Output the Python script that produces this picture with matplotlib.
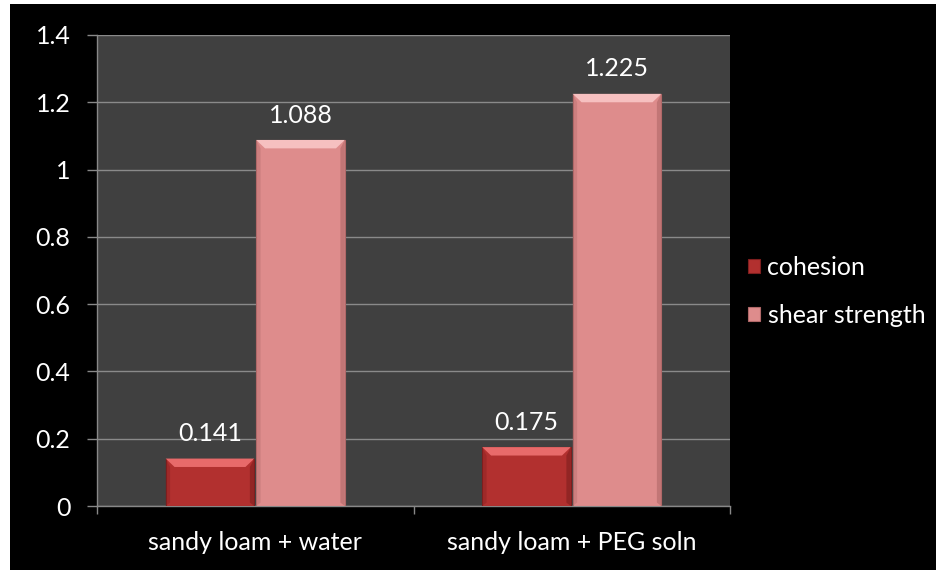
import matplotlib
matplotlib.use("Agg")
import matplotlib.pyplot as plt
from matplotlib.patches import Rectangle, Polygon
import numpy as np

categories = ["sandy loam + water", "sandy loam + PEG soln"]
series_names = ["cohesion", "shear strength"]
cohesion = [0.141, 0.175]
shear_strength = [1.088, 1.225]
value_labels = [["0.141", "0.175"], ["1.088", "1.225"]]
yticks = [0, 0.2, 0.4, 0.6, 0.8, 1.0, 1.2, 1.4]
ytick_labels = ["0", "0.2", "0.4", "0.6", "0.8", "1", "1.2", "1.4"]

plt.rcParams["font.family"] = ["Lato", "DejaVu Sans"]

W, H = 936, 573
fig = plt.figure(figsize=(W / 100, H / 100), dpi=100)
fig.patch.set_facecolor("white")
fig.add_artist(Rectangle((10 / W, 3 / H), 1 - 10 / W, 1 - 7 / H,
                         transform=fig.transFigure, facecolor="black",
                         edgecolor="none", zorder=0))

ax = fig.add_axes([97 / W, 1 - 506 / H, (730 - 97) / W, (506 - 35) / H])
ax.set_facecolor("#404040")

face = ["#b2302f", "#de8c8c"]
light = ["#e86a6a", "#f6c0c0"]
dark = ["#7e1e1e", "#b06868"]

x = np.arange(len(categories))
bw = 0.28
offs = [-0.143, 0.143]
data = [cohesion, shear_strength]
FS = 18

for si, vals in enumerate(data):
    bars = ax.bar(x + offs[si], vals, bw, color=face[si], edgecolor=dark[si],
                  linewidth=0.8, zorder=3, label=series_names[si])
    for b, lab in zip(bars, value_labels[si]):
        bx, bwid, bh = b.get_x(), b.get_width(), b.get_height()
        dx = bwid * 0.1
        dy = 0.025
        ax.add_patch(Polygon([(bx, bh), (bx + bwid, bh), (bx + bwid - dx, bh - dy), (bx + dx, bh - dy)],
                             closed=True, facecolor=light[si], edgecolor="none", zorder=4))
        ax.add_patch(Polygon([(bx + bwid, bh), (bx + bwid, 0), (bx + bwid - dx * 0.5, 0.01), (bx + bwid - dx * 0.5, bh - dy)],
                             closed=True, facecolor=dark[si], edgecolor="none", alpha=0.6, zorder=4))
        ax.add_patch(Polygon([(bx, bh), (bx, 0), (bx + dx * 0.5, 0.01), (bx + dx * 0.5, bh - dy)],
                             closed=True, facecolor=dark[si], edgecolor="none", alpha=0.35, zorder=4))
        ax.text(b.get_x() + bwid / 2, bh + 0.04, lab, ha="center", va="bottom",
                color="white", fontsize=FS, zorder=5)

ax.set_xlim(-0.5, 1.5)
ax.set_ylim(0, 1.4)
ax.set_yticks(yticks)
ax.set_yticklabels(ytick_labels)
ax.set_xticks(x)
ax.set_xticklabels(categories)
ax.set_xticks([-0.5, 0.5, 1.5], minor=True)
ax.tick_params(axis="x", which="major", length=0, pad=18, labelsize=FS, colors="white")
ax.tick_params(axis="x", which="minor", length=6, color="#888888", width=1)
ax.tick_params(axis="y", length=7, color="#888888", width=1, pad=12, labelsize=FS, labelcolor="white")
ax.yaxis.grid(True, color="#8a8a8a", linewidth=1, zorder=1)
ax.set_axisbelow(True)
for s in ["top", "right"]:
    ax.spines[s].set_visible(False)
for s in ["left", "bottom"]:
    ax.spines[s].set_color("#888888")
    ax.spines[s].set_linewidth(1)

leg = ax.legend(loc="center left", bbox_to_anchor=(1.0, 0.455), frameon=False,
                fontsize=FS, labelcolor="white", handlelength=0.5, handleheight=0.5,
                handletextpad=0.3, labelspacing=1.0, borderaxespad=0.3)

fig.savefig("out.png", dpi=100, facecolor=fig.get_facecolor())
